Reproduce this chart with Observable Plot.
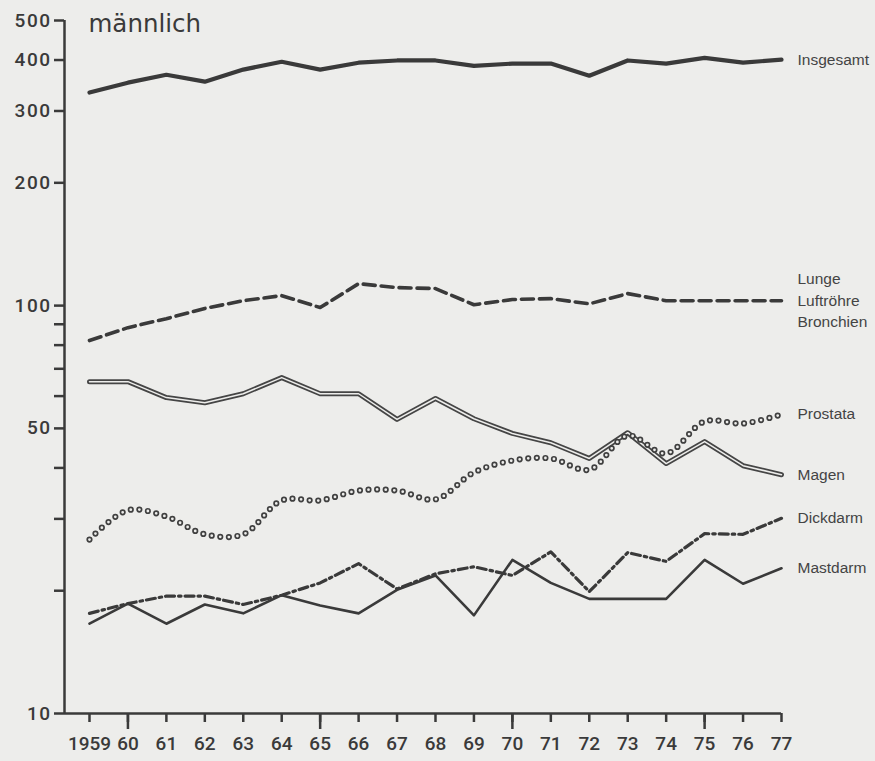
<!DOCTYPE html>
<html>
<head>
<meta charset="utf-8">
<script src="https://cdn.jsdelivr.net/npm/d3@7"></script>
<script src="https://cdn.jsdelivr.net/npm/@observablehq/plot@0.6"></script>
<style>
  html, body { margin: 0; padding: 0; background: #ededeb; }
  #chart { width: 875px; height: 761px; }
  #chart g[aria-label="y-axis tick label"] text { letter-spacing: 1.5px; }
</style>
</head>
<body>
<div id="chart"></div>
<script>
const years = [1959,1960,1961,1962,1963,1964,1965,1966,1967,1968,1969,1970,1971,1972,1973,1974,1975,1976,1977];
const insgesamt = [333,352,368,354,379,396,379,394,399,399,387,392,392,366,399,392,405,394,401];
const lunge     = [82.1,88.3,92.9,98.4,102.8,105.8,98.9,113.2,110.7,110.1,100.5,103.5,104,101,107,102.8,102.8,102.8,102.8];
const prostata  = [26.7,31.5,30.4,27.5,27.5,33.3,33.3,35.2,35.2,33.5,39.0,41.7,42.2,39.6,48.0,43.4,52.0,51.4,54.1];
const magen     = [65.1,65.1,59.5,57.8,60.8,66.6,60.8,60.8,52.6,59.2,52.8,48.6,46.1,42.2,48.8,41.0,46.4,40.5,38.5];
const dickdarm  = [17.6,18.6,19.4,19.4,18.5,19.5,20.9,23.3,20.2,22.0,22.9,21.8,24.9,19.9,24.8,23.6,27.6,27.5,30.1];
const mastdarm  = [16.6,18.6,16.6,18.5,17.6,19.5,18.4,17.6,20.1,21.8,17.4,23.8,20.9,19.1,19.1,19.1,23.8,20.8,22.7];

const title = "männlich";
const seriesNames = ["Insgesamt","Lunge\nLuftröhre\nBronchien","Prostata","Magen","Dickdarm","Mastdarm"];
const yTicks = [10,20,30,40,50,60,70,80,90,100,200,300,400,500];
const yLabeled = [10,50,100,200,300,400,500];
const xLongTicks = [1960,1965,1970,1975];

const bg = "#ededeb";
const ink = "#3a3a3a";

const mk = arr => years.map((y,i) => ({year: y, value: arr[i]}));
const dIns = mk(insgesamt), dLun = mk(lunge), dPro = mk(prostata),
      dMag = mk(magen), dDic = mk(dickdarm), dMas = mk(mastdarm);
const allSeries = [insgesamt, lunge, prostata, magen, dickdarm, mastdarm];
const labels = seriesNames.map((n,i) => ({name: n, year: years[years.length-1], value: allSeries[i][allSeries[i].length-1]}));

const plot = Plot.plot({
  width: 875,
  height: 761,
  marginLeft: 64,
  marginRight: 94,
  marginTop: 20,
  marginBottom: 48,
  style: {background: bg, color: ink, fontFamily: "Roboto, sans-serif"},
  x: {type: "linear", domain: [1958.35, 1977]},
  y: {type: "log", domain: [10, 500]},
  marks: [
    Plot.ruleY([10], {stroke: ink, strokeWidth: 2.5}),
    Plot.ruleX([1958.35], {stroke: ink, strokeWidth: 2.5}),
    Plot.axisY({ticks: yTicks, tickSize: 10, tickPadding: 3, strokeWidth: 2.5,
      tickFormat: d => yLabeled.includes(d) ? String(d) : "", fontSize: 19, fontWeight: 500, label: null}),
    Plot.axisX({ticks: years, tickSize: 9, tickPadding: 14, strokeWidth: 2.5,
      tickFormat: d => d === 1959 ? "1959" : String(d).slice(2), fontSize: 19, fontWeight: 500, label: null}),
    Plot.axisX({ticks: xLongTicks, tickSize: 16, strokeWidth: 2.5, tickFormat: () => "", label: null}),
    // Insgesamt
    Plot.line(dIns, {x: "year", y: "value", stroke: ink, strokeWidth: 4.2, strokeLinejoin: "round"}),
    // Lunge
    Plot.line(dLun, {x: "year", y: "value", stroke: ink, strokeWidth: 3.6, strokeDasharray: "12 6"}),
    // Magen double line
    Plot.line(dMag, {x: "year", y: "value", stroke: "#454545", strokeWidth: 5}),
    Plot.line(dMag, {x: "year", y: "value", stroke: bg, strokeWidth: 1.5}),
    // Prostata rings
    Plot.line(dPro, {x: "year", y: "value", stroke: "#404040", strokeWidth: 6.2, strokeDasharray: "0 8.6", strokeLinecap: "round", curve: "catmull-rom"}),
    Plot.line(dPro, {x: "year", y: "value", stroke: bg, strokeWidth: 2.8, strokeDasharray: "0 8.6", strokeLinecap: "round", curve: "catmull-rom"}),
    // Dickdarm dash-dot
    Plot.line(dDic, {x: "year", y: "value", stroke: ink, strokeWidth: 3.2, strokeDasharray: "9 4 2.5 4"}),
    // Mastdarm
    Plot.line(dMas, {x: "year", y: "value", stroke: ink, strokeWidth: 2.6}),
    // labels
    Plot.text(labels, {x: "year", y: "value", text: "name", dx: 16, dy: -2, textAnchor: "start",
      fontSize: 15.5, lineHeight: 1.4, fill: "#444", fontFamily: "'Liberation Sans', Arial, sans-serif"}),
    Plot.text([title], {frameAnchor: "top-left", text: d => d, dx: 24, dy: -6, fontSize: 24.5,
      fill: ink, fontFamily: "'DejaVu Sans', sans-serif", textAnchor: "start", lineAnchor: "top"})
  ]
});
document.getElementById("chart").appendChild(plot);
</script>
</body>
</html>
